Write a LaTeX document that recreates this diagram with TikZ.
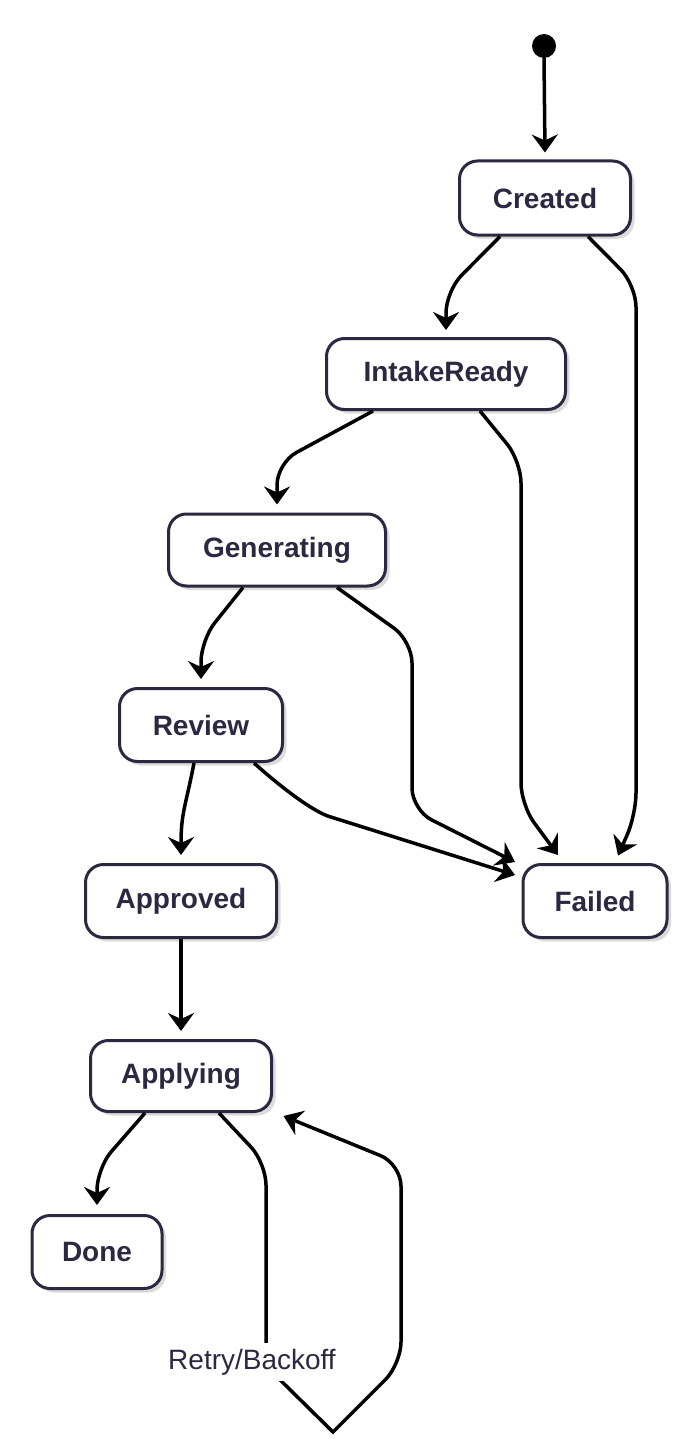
\documentclass[tikz,border=0pt]{standalone}
\usepackage{fontspec}
\setmainfont{Liberation Sans}
\usetikzlibrary{arrows.meta,shadows,calc}
\definecolor{navy}{RGB}{43,41,66}
\tikzset{
  state/.style={draw=navy, line width=3pt, rounded corners=18pt, fill=white,
    font=\fontsize{28}{30}\selectfont\bfseries, text=navy, inner sep=0pt,
    drop shadow={shadow xshift=4pt, shadow yshift=-4pt, opacity=0.14, fill=black}},
  tr/.style={line width=3.5pt, draw=black, rounded corners=22pt,
    -{Stealth[length=18pt,width=26pt,inset=6pt]}},
  lbl/.style={fill=white, text=navy, inner sep=6pt, font=\fontsize{28}{30}\selectfont}
}
\begin{document}
\begin{tikzpicture}[x=1pt,y=-1pt]
\fill[white] (0,0) rectangle (687,1450);
\useasboundingbox (0,0) rectangle (687,1450);

\fill[black] (544,46) circle (12pt);
\coordinate (startc) at (544,58);

\node[state, minimum width=171pt, minimum height=74pt] (created) at (545,198) {Created};
\node[state, minimum width=239pt, minimum height=71pt] (intake) at (446,374) {IntakeReady};
\node[state, minimum width=217pt, minimum height=72pt] (gen) at (277,550) {Generating};
\node[state, minimum width=163pt, minimum height=73pt] (review) at (201,725) {Review};
\node[state, minimum width=191pt, minimum height=73pt] (approved) at (181,901) {Approved};
\node[state, minimum width=144pt, minimum height=73pt] (failed) at (595,901) {Failed};
\node[state, minimum width=181pt, minimum height=71pt] (applying) at (181,1076) {Applying};
\node[state, minimum width=130pt, minimum height=73pt] (done) at (97,1252) {Done};

% start
\draw[tr] (startc) -- ([yshift=7pt]created.north);
% Created -> IntakeReady
\draw[tr] ([xshift=-45pt]created.south) -- (446,291) -- ([yshift=7pt]intake.north);
% Created -> Failed
\draw[tr] ([xshift=43pt]created.south) -- (636,285) -- (636,815) -- ([shift={(23pt,7.5pt)}]failed.north);
% IntakeReady -> Generating
\draw[tr] ([xshift=-73pt]intake.south) -- (277,463) -- ([yshift=8pt]gen.north);
% IntakeReady -> Failed
\draw[tr] ([xshift=34pt]intake.south) -- (521,461) -- (521,805) -- ([shift={(-37pt,8pt)}]failed.north);
% Generating -> Review
\draw[tr] ([xshift=-34pt]gen.south) -- (201,640) -- ([yshift=8pt]review.north);
% Generating -> Failed
\draw[tr] ([xshift=60pt]gen.south) -- (412,641) -- (412,810) -- ([shift={(-6.5pt,39pt)}]failed.west);
% Review -> Failed
\draw[tr] ([xshift=53pt]review.south) .. controls (292,797) and (318,813) .. (350,823) -- ([shift={(-6.5pt,26pt)}]failed.west);
% Review -> Approved
\draw[tr] ([xshift=-7pt]review.south) .. controls (186,805) and (181,812) .. ([yshift=8pt]approved.north);
% Approved -> Applying
\draw[tr] (approved.south) -- ([yshift=8pt]applying.north);
% Applying -> Done
\draw[tr] ([xshift=-36pt]applying.south) -- (97,1168) -- ([yshift=9pt]done.north);
% Applying -> Applying (Retry/Backoff)
\draw[tr] ([xshift=38pt]applying.south) -- (266,1163) -- (266,1366) [sharp corners] -- (333,1432) [rounded corners=22pt] -- (401,1364) -- (401,1164) -- ([shift={(10.5pt,-40pt)}]applying.east);
\node[lbl] (retry) at (252,1362) {Retry/Backoff};
\end{tikzpicture}
\end{document}
